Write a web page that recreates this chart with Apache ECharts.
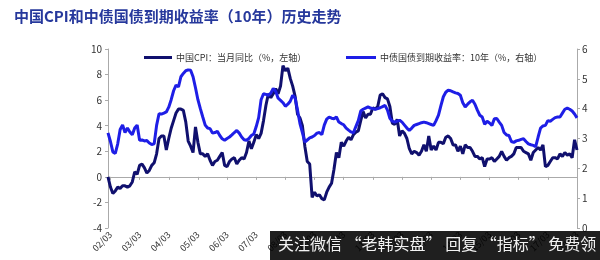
<!DOCTYPE html>
<html>
<head>
<meta charset="utf-8">
<script src="https://cdn.jsdelivr.net/npm/echarts@6/dist/echarts.min.js"></script>
<style>
html,body{margin:0;padding:0;background:#fff;}
#chart{width:600px;height:260px;}
</style>
</head>
<body>
<div id="chart"></div>
<script>
// Months: 2002-02 .. 2018-03
const startYear = 2002, startMonth = 2;
const cpi = [
  0.0,-0.8,-1.3,-1.1,-0.8,-0.9,-0.7,-0.7,-0.8,-0.7,-0.4,
  0.4,0.2,0.9,1.0,0.7,0.3,0.5,0.9,1.1,1.8,3.0,3.2,
  3.2,2.1,3.0,3.8,4.4,5.0,5.3,5.3,5.2,4.3,2.8,2.4,
  1.9,3.9,2.7,1.8,1.8,1.6,1.8,1.3,0.9,1.2,1.3,1.6,
  1.9,0.9,0.8,1.2,1.4,1.5,1.0,1.3,1.5,1.4,1.9,2.8,
  2.2,2.7,3.3,3.0,3.4,4.4,5.6,6.5,6.2,6.5,6.9,6.5,
  7.1,8.7,8.3,8.5,7.7,7.1,6.3,4.9,4.6,4.0,2.4,1.2,
  1.0,-1.6,-1.2,-1.5,-1.4,-1.7,-1.8,-1.2,-0.8,-0.5,0.6,1.9,
  1.5,2.7,2.4,2.8,3.1,2.9,3.3,3.5,3.6,4.4,5.1,4.6,
  4.9,4.9,5.4,5.3,5.5,6.4,6.5,6.2,6.1,5.5,4.2,4.1,
  4.5,3.2,3.6,3.4,3.0,2.2,1.8,2.0,1.9,1.7,2.0,2.5,
  2.0,3.2,2.1,2.4,2.1,2.7,2.7,2.6,3.1,3.2,3.0,2.5,
  2.5,2.0,2.4,1.8,2.5,2.3,2.3,2.0,1.6,1.6,1.4,1.5,
  0.8,1.4,1.4,1.5,1.2,1.4,1.6,2.0,1.6,1.3,1.5,1.6,
  1.8,2.3,2.3,2.3,2.0,1.9,1.8,1.3,1.9,2.1,2.3,2.1,
  2.5,0.8,0.9,1.2,1.5,1.5,1.4,1.8,1.6,1.9,1.7,1.8,
  1.5,2.9,2.1
];
const bond10y = [
  3.19,2.9,2.55,2.5,2.82,3.3,3.45,3.2,3.35,3.22,3.13,3.35,
  3.45,2.94,2.95,2.92,2.93,2.85,2.8,2.82,3.44,3.83,3.82,3.85,
  3.89,4.05,4.3,4.6,4.79,4.73,5.07,5.18,5.27,5.3,5.29,5.07,
  4.7,4.3,4.0,3.72,3.45,3.35,3.33,3.18,3.2,3.24,3.1,2.99,
  2.94,3.0,3.05,3.12,3.2,3.27,3.18,3.05,2.96,2.94,3.0,3.1,
  3.15,3.4,3.7,4.3,4.5,4.48,4.45,4.52,4.68,4.58,4.35,4.28,
  4.2,4.08,4.15,4.25,4.45,4.36,3.95,3.5,3.2,2.88,2.95,3.02,
  3.05,3.1,3.18,3.2,3.13,3.45,3.65,3.72,3.68,3.66,3.72,3.55,
  3.5,3.46,3.35,3.28,3.22,3.19,3.4,3.6,3.92,3.98,4.02,4.06,
  4.02,4.0,3.98,4.0,4.03,4.07,4.11,3.95,3.68,3.58,3.55,3.58,
  3.61,3.55,3.45,3.35,3.27,3.35,3.44,3.47,3.5,3.53,3.55,3.53,
  3.5,3.47,3.44,3.6,3.78,4.1,4.4,4.55,4.62,4.6,4.56,4.53,
  4.51,4.45,4.2,4.06,4.15,4.23,4.28,4.15,3.95,3.78,3.72,3.48,
  3.58,3.52,3.44,3.66,3.67,3.55,3.44,3.2,3.12,3.1,2.9,2.87,
  2.92,2.94,2.97,2.99,2.9,2.82,2.79,2.77,2.73,3.05,3.35,3.42,
  3.44,3.6,3.58,3.64,3.7,3.72,3.72,3.85,3.98,4.02,3.98,3.92,
  3.82,3.69
];
const leftTicks = {min:-4, max:10, interval:2};
const rightTicks = {min:0, max:6, interval:1};
const cpiName = '中国CPI：当月同比（%，左轴）';
const bondName = '中债国债到期收益率：10年（%，右轴）';
const titleText = '中国CPI和中债国债到期收益率（10年）历史走势';
const watermark = '关注微信 “老韩实盘” 回复 “指标” 免费领';

const months = cpi.map((_, i) => {
  const t = startMonth - 1 + i;
  const y = startYear + Math.floor(t / 12);
  const m = t % 12 + 1;
  return String(y % 100).padStart(2, '0') + '/' + String(m).padStart(2, '0');
});
const isYearTick = (idx) => months[idx] && months[idx].endsWith('/03');

const FONT = '"Noto Sans CJK SC", "Noto Sans", sans-serif';
const chart = echarts.init(document.getElementById('chart'), null, {renderer:'canvas'});
chart.setOption({
  animation: false,
  backgroundColor: '#fff',
  title: {
    text: titleText, left: 9, top: 4,
    textStyle: {fontSize: 15, fontWeight: 'bold', color: '#26389c', fontFamily: FONT}
  },
  legend: [
    {data:[cpiName], left: 139, top: 48, itemWidth: 28, itemHeight: 3, icon: 'rect', itemGap: 0,
     textStyle:{fontSize: 9, color:'#333', fontFamily: FONT, padding:[0,0,0,-1]}},
    {data:[bondName], left: 341, top: 48, itemWidth: 30, itemHeight: 3, icon: 'rect',
     textStyle:{fontSize: 9, color:'#333', fontFamily: FONT, padding:[0,0,0,-1]}}
  ],
  grid: {left: 108, right: 23, top: 49, bottom: 32, containLabel: false},
  xAxis: [
    {type:'category', data: months, boundaryGap:false,
     axisLine:{onZero:true, lineStyle:{color:'#aaa', width:1}},
     axisTick:{show:true, interval:(i)=>isYearTick(i), length:3, lineStyle:{color:'#aaa'}},
     axisLabel:{show:false}, splitLine:{show:false}},
    {type:'category', data: months, boundaryGap:false, position:'bottom',
     axisLine:{show:false, onZero:false}, axisTick:{show:false},
     axisLabel:{show:true, interval:(i)=>isYearTick(i), rotate:45, fontSize:9, color:'#333', margin:5, fontFamily: FONT},
     splitLine:{show:false}}
  ],
  yAxis: [
    {type:'value', min:leftTicks.min, max:leftTicks.max, interval:leftTicks.interval, position:'left',
     axisLine:{show:true, lineStyle:{color:'#aaa'}}, axisTick:{show:true, length:3, lineStyle:{color:'#aaa'}},
     axisLabel:{fontSize:10, color:'#333', margin:6, fontFamily: FONT}, splitLine:{show:false}},
    {type:'value', min:rightTicks.min, max:rightTicks.max, interval:rightTicks.interval, position:'right',
     axisLine:{show:true, lineStyle:{color:'#aaa'}}, axisTick:{show:true, length:3, lineStyle:{color:'#aaa'}},
     axisLabel:{fontSize:10, color:'#333', margin:5, fontFamily: FONT}, splitLine:{show:false}}
  ],
  series: [
    {name: cpiName, type:'line', data: cpi, xAxisIndex:0, yAxisIndex:0, symbol:'none',
     lineStyle:{width:3, color:'#10106e'}, itemStyle:{color:'#10106e'}, z:2},
    {name: bondName, type:'line', data: bond10y, xAxisIndex:0, yAxisIndex:1, symbol:'none',
     lineStyle:{width:3, color:'#1e1ee6'}, itemStyle:{color:'#1e1ee6'}, z:3}
  ],
  graphic: [
    {type:'rect', left:270, top:231, shape:{width:330, height:29}, style:{fill:'rgba(0,0,0,0.88)'}, z:100},
    {type:'text', left:278, top:236, style:{text: watermark, fill:'#f2f2f2', font:'16px "Noto Sans CJK SC"'}, z:101}
  ]
});
</script>
</body>
</html>
